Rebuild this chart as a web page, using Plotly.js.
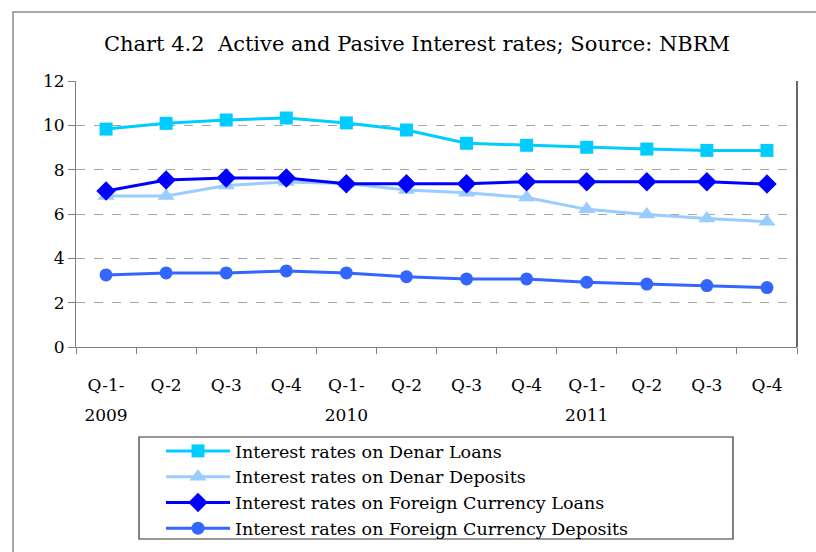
<!DOCTYPE html>
<html>
<head>
<meta charset="utf-8">
<script src="https://cdn.plot.ly/plotly-3.0.1.min.js"></script>
<style>
html,body{margin:0;padding:0;background:#fff;}
#chart{width:816px;height:552px;}
</style>
</head>
<body>
<div id="chart"></div>
<script>
var categories = ["Q-1- 2009", "Q-2 2009", "Q-3 2009", "Q-4 2009", "Q-1- 2010", "Q-2 2010", "Q-3 2010", "Q-4 2010", "Q-1- 2011", "Q-2 2011", "Q-3 2011", "Q-4 2011"];
var tickLabels = ["Q-1-", "Q-2", "Q-3", "Q-4", "Q-1-", "Q-2", "Q-3", "Q-4", "Q-1-", "Q-2", "Q-3", "Q-4"];
var yearPositions = [0, 4, 8];
var yearLabels = ["2009", "2010", "2011"];

var denarLoans       = [9.83, 10.09, 10.24, 10.33, 10.11, 9.79, 9.19, 9.10, 9.01, 8.93, 8.87, 8.87];
var denarDeposits    = [6.81, 6.81, 7.29, 7.44, 7.38, 7.08, 6.96, 6.74, 6.21, 5.98, 5.80, 5.65];
var fcLoans          = [7.04, 7.53, 7.62, 7.62, 7.37, 7.37, 7.37, 7.46, 7.46, 7.46, 7.46, 7.35];
var fcDeposits       = [3.25, 3.34, 3.34, 3.43, 3.34, 3.17, 3.07, 3.07, 2.92, 2.84, 2.77, 2.68];

var seriesNames = [
  "Interest rates on Denar Loans",
  "Interest rates on Denar Deposits",
  "Interest rates on Foreign Currency Loans",
  "Interest rates on Foreign Currency Deposits"
];

var FONT = "DejaVu Serif, Liberation Serif, serif";

function mk(name, y, color, symbol, size) {
  return {
    type: "scatter", mode: "lines+markers", name: name,
    x: categories, y: y,
    line: {color: color, width: 3},
    marker: {color: color, symbol: symbol, size: size},
    cliponaxis: false
  };
}

var data = [
  mk(seriesNames[0], denarLoans, "#00CCFF", "square", 13),
  mk(seriesNames[1], denarDeposits, "#99CCFF", "triangle-up", 15),
  mk(seriesNames[2], fcLoans, "#0000FF", "diamond", 15),
  mk(seriesNames[3], fcDeposits, "#3366FF", "circle", 13),
  // carrier for the year-label axis (no visible marks)
  {type: "scatter", mode: "markers", x: yearPositions, y: yearPositions.map(function(){return null;}),
   xaxis: "x2", yaxis: "y", showlegend: false, hoverinfo: "skip", marker: {opacity: 0}}
];

// plot area in pixels: left 76, right 797, top 81, bottom 347
var L = 76, R = 797, T = 81, B = 347;
function px(x) { return (x - L) / (R - L); }
function py(y) { return (B - y) / (B - T); }

var layout = {
  width: 816, height: 552, autosize: false,
  margin: {l: L, r: 816 - R, t: T, b: 552 - B, pad: 0, autoexpand: false},
  paper_bgcolor: "#ffffff",
  plot_bgcolor: "#ffffff",
  font: {family: FONT, size: 17, color: "#000"},
  title: {
    text: "Chart 4.2  Active and Pasive Interest rates; Source: NBRM",
    font: {family: FONT, size: 21, color: "#000"},
    xref: "container", x: 417 / 816, xanchor: "center",
    yref: "container", y: 1 - 44 / 552, yanchor: "middle"
  },
  xaxis: {
    type: "category", range: [-0.5, 11.5], automargin: false,
    tickmode: "array", tickvals: categories, ticktext: tickLabels,
    tickson: "boundaries", ticks: "outside", ticklen: 6, tickcolor: "#808080",
    showline: true, linecolor: "#808080", linewidth: 1,
    showgrid: false, zeroline: false,
    tickfont: {family: FONT, size: 17},
    ticklabelstandoff: 23,
    fixedrange: true
  },
  xaxis2: {
    type: "linear", overlaying: "x", anchor: "y", side: "bottom",
    range: [-0.5, 11.5], automargin: false,
    tickmode: "array", tickvals: yearPositions, ticktext: yearLabels,
    ticks: "", showline: false, showgrid: false, zeroline: false,
    tickfont: {family: FONT, size: 17},
    ticklabelstandoff: 56,
    fixedrange: true
  },
  yaxis: {
    range: [0, 12], dtick: 2, tick0: 0, automargin: false,
    ticks: "outside", ticklen: 7, tickcolor: "#808080",
    showline: true, linecolor: "#808080", linewidth: 1,
    showgrid: true, gridcolor: "#A6A6A6", griddash: "dash", gridwidth: 1,
    zeroline: false,
    tickfont: {family: FONT, size: 17},
    fixedrange: true
  },
  showlegend: true,
  legend: {
    x: px(161), y: py(433), xanchor: "left", yanchor: "top",
    bgcolor: "rgba(0,0,0,0)", borderwidth: 0,
    font: {family: FONT, size: 17.5, color: "#000"},
    tracegroupgap: 0, itemwidth: 64,
    traceorder: "normal"
  },
  shapes: [
    // right edge of plot area
    {type: "line", xref: "paper", yref: "paper", x0: 1, x1: 1, y0: 0, y1: 1,
     line: {color: "#333333", width: 1.5}},
    // outer chart frame
    {type: "rect", xref: "paper", yref: "paper",
     x0: px(13), x1: px(830), y0: py(12), y1: py(570),
     line: {color: "#8C8C8C", width: 1.5}, layer: "below"},
    // legend frame
    {type: "rect", xref: "paper", yref: "paper",
     x0: px(139), x1: px(733), y0: py(437), y1: py(539),
     line: {color: "#333333", width: 1.2}, layer: "below"}
  ]
};

Plotly.newPlot("chart", data, layout, {displayModeBar: false, staticPlot: true});
</script>
</body>
</html>
